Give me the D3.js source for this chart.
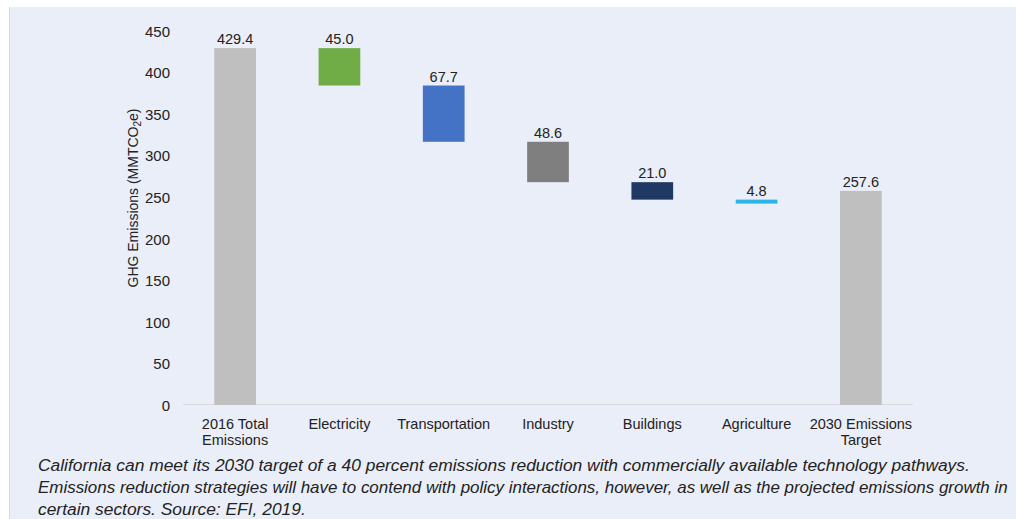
<!DOCTYPE html>
<html><head><meta charset="utf-8">
<script src="https://cdn.jsdelivr.net/npm/d3@7"></script>
<style>
html,body{margin:0;padding:0;background:#fff;}
svg{display:block;}
</style></head>
<body>
<svg id="chart" width="1016" height="519"></svg>
<script>
const categories = ["2016 Total|Emissions", "Electricity", "Transportation", "Industry", "Buildings", "Agriculture", "2030 Emissions|Target"];
const values = [429.4, 45.0, 67.7, 48.6, 21.0, 4.8, 257.6];
const kinds = ["total", "delta", "delta", "delta", "delta", "delta", "total"];
const colors = ["#bfbfbf", "#70ad47", "#4472c4", "#7f7f7f", "#203864", "#2db4ea", "#bfbfbf"];
const yTicks = [0, 50, 100, 150, 200, 250, 300, 350, 400, 450];
const captionLines = [
  "California can meet its 2030 target of a 40 percent emissions reduction with commercially available technology pathways.",
  "Emissions reduction strategies will have to contend with policy interactions, however, as well as the projected emissions growth in",
  "certain sectors. Source: EFI, 2019."
];

const svg = d3.select("#chart");
const W = 1016, H = 519;
const font = "'Liberation Sans', Arial, sans-serif";

svg.append("rect").attr("x", 0).attr("y", 0).attr("width", W).attr("height", H).attr("fill", "#fff");
svg.append("rect").attr("x", 10).attr("y", 7).attr("width", W - 10).attr("height", H - 7).attr("fill", "#eaeef8");
svg.append("line").attr("x1", 9.5).attr("x2", 9.5).attr("y1", 7).attr("y2", H).attr("stroke", "#d4d8e0").attr("stroke-width", 1);

// waterfall computation
let running = 0;
const bars = categories.map((c, i) => {
  let y0, y1;
  if (kinds[i] === "total") { y0 = 0; y1 = values[i]; running = values[i]; }
  else { y1 = running; y0 = running - values[i]; running = y0; }
  return { cat: c, value: values[i], y0, y1, color: colors[i] };
});

const x = d3.scaleBand().domain(categories).range([183, 913]).paddingInner(0.6).paddingOuter(0.3);
const y = d3.scaleLinear().domain([0, 450]).range([405, 31]);

// baseline
svg.append("line").attr("x1", 183).attr("x2", 913).attr("y1", y(0) - 0.5).attr("y2", y(0) - 0.5)
  .attr("stroke", "#d9d9d9").attr("stroke-width", 1);

// y axis
const yAxis = d3.axisLeft(y).tickValues(yTicks).tickSize(0).tickPadding(0);
const gy = svg.append("g").attr("transform", "translate(170,0)").call(yAxis);
gy.select(".domain").remove();
gy.selectAll("text").attr("font-family", font).attr("font-size", 15).attr("fill", "#222").attr("dy", "0.35em");

// y title
const yt = svg.append("text").attr("transform", "translate(138,198) rotate(-90)")
  .attr("text-anchor", "middle").attr("font-family", font).attr("font-size", 14).attr("fill", "#222");
yt.append("tspan").text("GHG Emissions (MMTCO");
yt.append("tspan").text("2").attr("font-size", 10).attr("dy", 3);
yt.append("tspan").text("e)").attr("dy", -3);

// bars
svg.selectAll("rect.bar").data(bars).enter().append("rect").attr("class", "bar")
  .attr("x", d => x(d.cat)).attr("width", x.bandwidth())
  .attr("y", d => y(d.y1)).attr("height", d => Math.max(3, y(d.y0) - y(d.y1)))
  .attr("fill", d => d.color);

// value labels
svg.selectAll("text.val").data(bars).enter().append("text").attr("class", "val")
  .attr("x", d => x(d.cat) + x.bandwidth() / 2).attr("y", d => y(d.y1) - 4)
  .attr("text-anchor", "middle").attr("font-family", font).attr("font-size", 14.5).attr("fill", "#222")
  .text(d => d.value.toFixed(1));

// x labels
const xl = svg.selectAll("text.cat").data(categories).enter().append("text").attr("class", "cat")
  .attr("text-anchor", "middle").attr("font-family", font).attr("font-size", 14.5).attr("fill", "#222");
xl.each(function(c) {
  const parts = c.split("|");
  const t = d3.select(this);
  parts.forEach((p, j) => {
    t.append("tspan").attr("x", x(c) + x.bandwidth() / 2).attr("y", 429 + j * 16).text(p);
  });
});

// caption (fit each line inside the frame)
svg.selectAll("text.cap").data(captionLines).enter().append("text").attr("class", "cap")
  .attr("x", 38).attr("y", (d, i) => 471 + i * 22)
  .attr("font-family", font).attr("font-size", 17.4).attr("font-style", "italic").attr("fill", "#222")
  .text(d => d)
  .each(function() {
    const w = this.getComputedTextLength();
    const maxW = W - 38 - 8;
    if (w > maxW) d3.select(this).attr("font-size", 17.4 * maxW / w);
  });
</script>
</body></html>
